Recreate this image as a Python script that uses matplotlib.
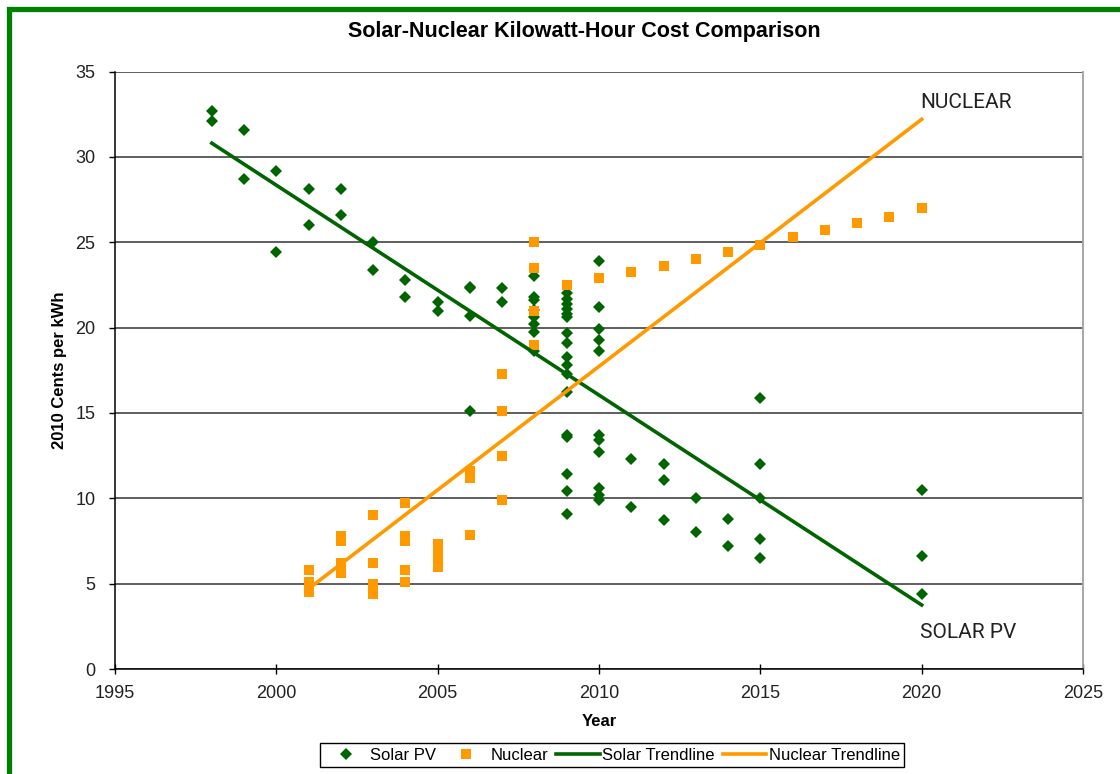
import numpy as np
import matplotlib.pyplot as plt
from matplotlib.patches import Rectangle

# Solar PV cost estimates (year, 2010 cents per kWh)
solar_years = [1998, 1998, 1999, 1999, 2000, 2000, 2001, 2001, 2002, 2002,
               2003, 2003, 2004, 2004, 2005, 2005,
               2006, 2006, 2006, 2006, 2007, 2007,
               2008, 2008, 2008, 2008, 2008, 2008, 2008, 2008,
               2009, 2009, 2009, 2009, 2009, 2009, 2009, 2009, 2009,
               2009, 2009, 2009, 2009, 2009, 2009, 2009, 2009,
               2010, 2010, 2010, 2010, 2010, 2010, 2010, 2010, 2010, 2010, 2010,
               2011, 2011, 2012, 2012, 2012, 2013, 2013, 2014, 2014,
               2015, 2015, 2015, 2015, 2015, 2020, 2020, 2020]
solar_cents = [32.7, 32.1, 31.6, 28.7, 29.2, 24.4, 28.1, 26.0, 28.1, 26.6,
               25.0, 23.4, 22.8, 21.8, 21.5, 21.0,
               22.4, 22.3, 20.7, 15.1, 22.3, 21.5,
               23.05, 21.8, 21.6, 21.05, 20.6, 20.2, 19.75, 18.6,
               22.0, 21.7, 21.4, 21.1, 20.8, 20.6, 19.7, 19.1, 18.3,
               17.8, 17.3, 16.2, 13.7, 13.6, 11.4, 10.4, 9.1,
               23.9, 21.2, 19.9, 19.3, 18.6, 13.7, 13.4, 12.7, 10.6, 10.2, 9.9,
               12.3, 9.5, 12.0, 11.1, 8.7, 10.0, 8.0, 8.8, 7.2,
               15.9, 12.0, 10.0, 7.6, 6.5, 10.5, 6.6, 4.4]

# Nuclear cost estimates
nuclear_years = [2001, 2001, 2001, 2001, 2002, 2002, 2002, 2002, 2002,
                 2003, 2003, 2003, 2003, 2003, 2004, 2004, 2004, 2004, 2004,
                 2005, 2005, 2005, 2005, 2006, 2006, 2006,
                 2007, 2007, 2007, 2007, 2008, 2008, 2008, 2008,
                 2009, 2010, 2011, 2012, 2013, 2014, 2015, 2016, 2017, 2018, 2019, 2020]
nuclear_cents = [5.8, 5.1, 4.8, 4.5, 7.8, 7.5, 6.2, 5.9, 5.6,
                 9.0, 6.2, 5.0, 4.7, 4.4, 9.75, 7.8, 7.5, 5.8, 5.1,
                 7.3, 6.9, 6.5, 6.0, 11.6, 11.2, 7.85,
                 17.3, 15.1, 12.5, 9.9, 25.0, 23.5, 21.0, 19.0,
                 22.5, 22.9, 23.25, 23.6, 24.0, 24.4, 24.85, 25.3, 25.7, 26.1, 26.5, 27.0]

# trendline end points
solar_trend_years = [1998, 2020]
solar_trend_cents = [30.8, 3.75]
nuclear_trend_years = [2001, 2020]
nuclear_trend_cents = [4.7, 32.2]

green = '#006400'
orange = '#FF9900'

plt.rcParams['font.family'] = ['Liberation Sans', 'DejaVu Sans']

fig = plt.figure(figsize=(11.2, 7.74), dpi=100)
ax = fig.add_axes([115 / 1120, 1 - 669 / 774, (1083 - 115) / 1120, (669 - 71.5) / 774])

ax.plot(solar_years, solar_cents, 'D', color=green, ms=6.2, mew=0,
        label='Solar PV', zorder=3)
ax.plot(nuclear_years, nuclear_cents, 's', color=orange, ms=7.3, mew=0,
        label='Nuclear', zorder=4)
ax.plot(solar_trend_years, solar_trend_cents, '-', color=green, lw=2.6,
        label='Solar Trendline', zorder=5)
ax.plot(nuclear_trend_years, nuclear_trend_cents, '-', color=orange, lw=2.6,
        label='Nuclear Trendline', zorder=6)

ax.text(2019.95, 33.2, 'NUCLEAR', family='Roboto', fontsize=15,
        color='#222222', va='center', ha='left')
ax.text(2019.95, 2.15, 'SOLAR PV', family='Roboto', fontsize=15,
        color='#222222', va='center', ha='left')

ax.set_xlim(1995, 2025)
ax.set_ylim(0, 35)
ax.set_xticks(np.arange(1995, 2026, 5))
ax.set_yticks(np.arange(0, 36, 5))
ax.yaxis.grid(True, color='#333333', lw=1.1)
ax.set_axisbelow(True)

ax.spines['top'].set_visible(False)
ax.spines['right'].set_color('#a0a0a0')
ax.spines['right'].set_linewidth(1.3)
ax.spines['left'].set_color('black')
ax.spines['bottom'].set_color('black')
ax.spines['left'].set_linewidth(1.1)
ax.spines['bottom'].set_linewidth(1.1)

ax.tick_params(axis='y', direction='out', length=4, width=1, pad=10,
               labelsize=13, labelcolor='#222222')
ax.tick_params(axis='x', direction='inout', length=7, width=1, pad=8,
               labelsize=13, labelcolor='#222222')

ax.set_xlabel('Year', fontsize=12, fontweight='bold', labelpad=9)
ax.set_ylabel('2010 Cents per kWh', fontsize=12, fontweight='bold', labelpad=6)

fig.text(584 / 1120, 1 - 31 / 774, 'Solar-Nuclear Kilowatt-Hour Cost Comparison',
         fontsize=15.5, fontweight='bold', ha='center', va='center')

leg = fig.legend(loc='center', bbox_to_anchor=(612 / 1120, 1 - 755 / 774),
                 ncol=4, fontsize=12, frameon=True, fancybox=False,
                 edgecolor='black', framealpha=1, handlelength=2.6,
                 handletextpad=0.15, columnspacing=0.5, borderpad=0.25,
                 borderaxespad=0)
leg.get_frame().set_linewidth(1.0)

# green frame around the whole picture
fig.patches.append(Rectangle((8.5 / 1120, -0.05), 1.2, 1.05 - 8.5 / 774,
                             transform=fig.transFigure, fill=False,
                             edgecolor='#008000', lw=3.8, clip_on=False))

fig.savefig('out.png', dpi=100)
